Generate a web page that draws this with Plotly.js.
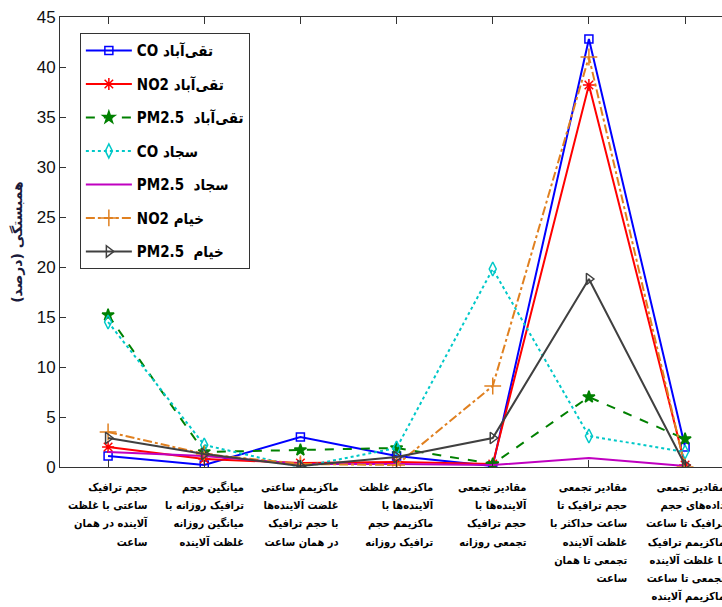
<!DOCTYPE html>
<html>
<head>
<meta charset="utf-8">
<script src="https://cdn.plot.ly/plotly-3.0.1.min.js"></script>
<style>html,body{margin:0;padding:0;background:#fff;}#chart{width:722px;height:607px;}</style>
</head>
<body>
<div id="chart"></div>
<script>
// Categories (x positions 1..7)
const categories = [1, 2, 3, 4, 5, 6, 7];
const categoryLabels = [
  ["حجم ترافیک", "ساعتی با غلظت", "آلاینده در همان", "ساعت"],
  ["میانگین حجم", "ترافیک روزانه با", "میانگین روزانه", "غلظت آلاینده"],
  ["ماکزیمم ساعتی", "غلضت آلاینده‌ها", "با حجم ترافیک", "در همان ساعت"],
  ["ماکزیمم غلظت", "آلاینده‌ها با", "ماکزیمم حجم", "ترافیک روزانه"],
  ["مقادیر تجمعی", "آلاینده‌ها با", "حجم ترافیک", "تجمعی روزانه"],
  ["مقادیر تجمعی", "حجم ترافیک تا", "ساعت حداکثر با", "غلظت آلاینده", "تجمعی تا همان", "ساعت"],
  ["مقادیر تجمعی", "داده‌های حجم", "ترافیک تا ساعت", "ماکزیمم ترافیک", "با غلظت آلاینده", "تجمعی تا ساعت", "ماکزیمم آلاینده"]
];

// Series values (correlation, %)
const taghiabadCO    = [1.1, 0.2, 3.0, 1.1, 0.1, 42.8, 2.0];
const taghiabadNO2   = [2.0, 0.8, 0.4, 0.5, 0.3, 38.2, 0.2];
const taghiabadPM25  = [15.2, 1.5, 1.7, 1.9, 0.3, 7.0, 2.8];
const sajjadCO       = [14.5, 2.2, 0.0, 1.9, 19.8, 3.1, 1.5];
const sajjadPM25     = [1.5, 1.1, 0.3, 0.3, 0.2, 0.9, 0.1];
const khayyamNO2     = [3.5, 1.3, 0.3, 0.2, 8.1, 41.0, 0.0];
const khayyamPM25    = [2.9, 1.3, 0.1, 1.0, 2.9, 18.8, 0.2];

const seriesNames = [
  "CO تقی‌آباد", "NO2 تقی‌آباد", "PM2.5  تقی‌آباد", "CO سجاد",
  "PM2.5  سجاد", "NO2 خیام", "PM2.5  خیام"
];
const yTitle = "همبستگی (درصد)";
const yTickVals = [0, 5, 10, 15, 20, 25, 30, 35, 40, 45];

const fa = "DejaVu Sans Condensed, DejaVu Sans, sans-serif";

function tr(y, name, color, dash, symbol, msize, i) {
  const t = {
    x: categories, y: y, name: name, type: "scatter",
    mode: symbol ? "lines+markers" : "lines",
    legendgroup: "g" + i,
    line: {color: color, width: 2, dash: dash}
  };
  if (symbol) t.marker = {symbol: symbol, size: msize, color: color, line: {color: color, width: 1.5}};
  return t;
}

const data = [
  tr(taghiabadCO, seriesNames[0], "#0000FF", "solid", "square-open", 8, 0),
  tr(taghiabadNO2, seriesNames[1], "#FF0000", "solid", "asterisk-open", 10, 1),
  tr(taghiabadPM25, seriesNames[2], "#008000", "dash", "star", 9, 2),
  tr(sajjadCO, seriesNames[3], "#00C8C8", "dot", "diamond-tall-open", 10, 3),
  tr(sajjadPM25, seriesNames[4], "#C000C0", "solid", null, 0, 4),
  tr(khayyamNO2, seriesNames[5], "#E08020", "dashdot", "cross-thin-open", 12, 5),
  tr(khayyamPM25, seriesNames[6], "#404040", "solid", "triangle-right-open", 10, 6)
];

// line spacing follows the 14px base font, glyphs drawn at 11px
const annotations = categoryLabels.map((lines, i) => ({
  x: categories[i], xref: "x", y: 0, yref: "paper",
  yanchor: "top", xanchor: "center", yshift: -12,
  text: lines.map(s => '<span style="font-size:11px">' + s + '</span>').join("<br>"),
  align: "right", showarrow: false,
  font: {family: fa, size: 14, color: "#000", weight: "bold"}
}));

const layout = {
  width: 722, height: 607,
  margin: {l: 60, r: 0, t: 17, b: 140},
  paper_bgcolor: "#fff", plot_bgcolor: "#fff",
  showlegend: true,
  legend: {
    x: 0.03, y: 0.964, xanchor: "left", yanchor: "top",
    bordercolor: "#333", borderwidth: 1, bgcolor: "#fff",
    traceorder: "grouped", tracegroupgap: 11, itemwidth: 46,
    font: {family: fa, size: 15, color: "#000", weight: "bold"}
  },
  xaxis: {
    range: [0.5, 7.384], tickvals: categories, ticktext: categories.map(() => ""),
    ticks: "inside", ticklen: 7, tickcolor: "#333", showgrid: false, zeroline: false,
    showline: true, linecolor: "#333", linewidth: 1, mirror: "ticks"
  },
  yaxis: {
    range: [0, 45], tickvals: yTickVals, ticks: "inside", ticklen: 6, tickcolor: "#333",
    showgrid: false, zeroline: false, showline: true, linecolor: "#333", linewidth: 1,
    tickfont: {family: "Liberation Sans, Arial, sans-serif", size: 17, color: "#111"},
    title: {text: yTitle, standoff: 10, font: {family: "DejaVu Sans, sans-serif", size: 14, color: "#1a1a3a", weight: "bold"}}
  },
  annotations: annotations
};

Plotly.newPlot("chart", data, layout, {displayModeBar: false, staticPlot: true});
</script>
</body>
</html>
